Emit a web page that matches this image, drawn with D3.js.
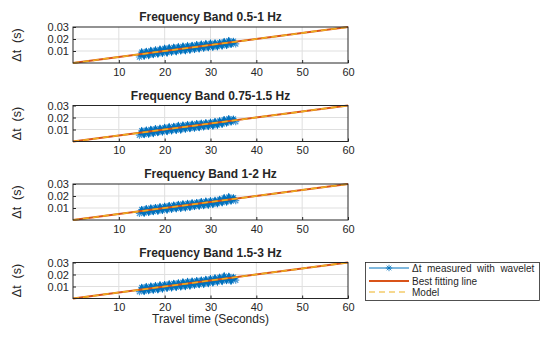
<!DOCTYPE html>
<html>
<head>
<meta charset="utf-8">
<script src="https://cdn.jsdelivr.net/npm/d3@7"></script>
<style>
    body { margin: 0; background: #fff; }
    svg { font-family: "Liberation Sans", Arial, sans-serif; }
</style>
</head>
<body>
<svg id="chart" width="560" height="337"></svg>
<script>
"use strict";
(function () {

    const bandTitles = ["Frequency Band 0.5-1 Hz", "Frequency Band 0.75-1.5 Hz", "Frequency Band 1-2 Hz", "Frequency Band 1.5-3 Hz"];

    const travelTime = [14.5, 15, 15.5, 16, 16.5, 17, 17.5, 18, 18.5, 19, 19.5, 20, 20.5, 21, 21.5, 22, 22.5,
        23, 23.5, 24, 24.5, 25, 25.5, 26, 26.5, 27, 27.5, 28, 28.5, 29, 29.5, 30, 30.5, 31, 31.5, 32, 32.5,
        33, 33.5, 34, 34.5, 35, 35.5];

    const dtBand1 = [0.0050, 0.0090, 0.0060, 0.0095, 0.0065, 0.0102, 0.0072, 0.0107, 0.0077, 0.0113, 0.0083,
        0.0120, 0.0087, 0.0125, 0.0093, 0.0129, 0.0097, 0.0133, 0.0103, 0.0138, 0.0105, 0.0141, 0.0110, 0.0145,
        0.0115, 0.0151, 0.0120, 0.0155, 0.0125, 0.0159, 0.0129, 0.0163, 0.0133, 0.0165, 0.0137, 0.0169, 0.0143,
        0.0177, 0.0149, 0.0185, 0.0155, 0.0181, 0.0159];
    const dtBand2 = [0.0053, 0.0089, 0.0059, 0.0093, 0.0063, 0.0099, 0.0069, 0.0105, 0.0075, 0.0109, 0.0081,
        0.0115, 0.0085, 0.0121, 0.0091, 0.0125, 0.0095, 0.0131, 0.0099, 0.0135, 0.0105, 0.0139, 0.0109, 0.0143,
        0.0113, 0.0147, 0.0117, 0.0151, 0.0123, 0.0155, 0.0127, 0.0159, 0.0131, 0.0165, 0.0137, 0.0171, 0.0145,
        0.0181, 0.0155, 0.0189, 0.0163, 0.0187, 0.0165];
    const dtBand3 = [0.0055, 0.0087, 0.0059, 0.0093, 0.0065, 0.0099, 0.0071, 0.0103, 0.0075, 0.0109, 0.0081,
        0.0113, 0.0085, 0.0119, 0.0091, 0.0123, 0.0095, 0.0129, 0.0099, 0.0133, 0.0103, 0.0137, 0.0107, 0.0141,
        0.0113, 0.0145, 0.0117, 0.0151, 0.0121, 0.0155, 0.0125, 0.0159, 0.0131, 0.0163, 0.0137, 0.0171, 0.0145,
        0.0183, 0.0153, 0.0191, 0.0159, 0.0185, 0.0161];
    const dtBand4 = [0.0057, 0.0091, 0.0061, 0.0097, 0.0067, 0.0101, 0.0071, 0.0105, 0.0075, 0.0111, 0.0081,
        0.0115, 0.0087, 0.0121, 0.0091, 0.0125, 0.0095, 0.0129, 0.0099, 0.0135, 0.0103, 0.0139, 0.0107, 0.0143,
        0.0113, 0.0147, 0.0117, 0.0151, 0.0121, 0.0157, 0.0127, 0.0163, 0.0133, 0.0169, 0.0139, 0.0175, 0.0145,
        0.0185, 0.0151, 0.0183, 0.0147, 0.0177, 0.0153];
    const measuredDt = [dtBand1, dtBand2, dtBand3, dtBand4];

    // best fit and model lines are the same here: 0.5 ms per second of travel
    const fitTime = [0, 60];
    const fitDt = [0, 0.03];
    const modelDt = [0, 0.03];

    const xTicks = [10, 20, 30, 40, 50, 60];
    const yTicks = [0.01, 0.02, 0.03];

    const BLUE = "#0072BD", LIGHT_BLUE = "#4d9bd6", RED = "#D95319", YELLOW = "#EDB120";
    const LEFT = 73, RIGHT = 348, PANEL_H = 36, TOP0 = 27, STEP = 78.5;

    const svg = d3.select("#chart");

    const x = d3.scaleLinear().domain([0, 60]).range([LEFT, RIGHT]);

    function star(g, px, py, r, color, w) {
        const d = r * 0.72;
        g.append("path")
            .attr("d", `M${px - r},${py}H${px + r}M${px},${py - r}V${py + r}` +
                `M${px - d},${py - d}L${px + d},${py + d}M${px - d},${py + d}L${px + d},${py - d}`)
            .attr("stroke", color)
            .attr("stroke-width", w)
            .attr("fill", "none");
    }

    bandTitles.forEach((title, i) => {
        const top = TOP0 + i * STEP;
        const y = d3.scaleLinear().domain([0, 0.03]).range([top + PANEL_H, top]);
        const g = svg.append("g");

        // grid
        g.selectAll(".gx").data(xTicks.slice(0, -1)).enter().append("line")
            .attr("x1", d => x(d)).attr("x2", d => x(d))
            .attr("y1", top).attr("y2", top + PANEL_H)
            .attr("stroke", "#dfdfdf").attr("stroke-width", 1);
        g.selectAll(".gy").data(yTicks.slice(0, -1)).enter().append("line")
            .attr("x1", LEFT).attr("x2", RIGHT)
            .attr("y1", d => y(d)).attr("y2", d => y(d))
            .attr("stroke", "#dfdfdf").attr("stroke-width", 1);

        // measured values
        const pts = travelTime.map((t, k) => [t, measuredDt[i][k]]);
        pts.forEach(p => star(g, x(p[0]), y(p[1]), 3.6, LIGHT_BLUE, 1.2));
        g.append("path")
            .attr("d", d3.line().x(d => x(d[0])).y(d => y(d[1]))(pts))
            .attr("fill", "none")
            .attr("stroke", BLUE)
            .attr("stroke-width", 4.2);

        // best fit (solid) and model (dashed)
        const fit = fitTime.map((t, k) => [t, fitDt[k]]);
        const model = fitTime.map((t, k) => [t, modelDt[k]]);
        const line = d3.line().x(d => x(d[0])).y(d => y(d[1]));
        g.append("path").attr("d", line(fit))
            .attr("fill", "none").attr("stroke", RED).attr("stroke-width", 2);
        g.append("path").attr("d", line(model))
            .attr("fill", "none").attr("stroke", YELLOW).attr("stroke-width", 1.5)
            .attr("stroke-dasharray", "6,4");

        // axes
        const xAxis = d3.axisBottom(x).tickValues(xTicks).tickSize(-3).tickPadding(5);
        const yAxis = d3.axisLeft(y).tickValues(yTicks).tickSize(-3).tickPadding(4)
            .tickFormat(d3.format(".2f"));
        const ax = g.append("g").attr("transform", `translate(0,${top + PANEL_H})`).call(xAxis);
        const ay = g.append("g").attr("transform", `translate(${LEFT},0)`).call(yAxis);
        [ax, ay].forEach(a => {
            a.select(".domain").remove();
            a.selectAll("text").attr("fill", "#262626").attr("font-size", 11)
                .attr("font-family", "Liberation Sans, Arial, sans-serif");
            a.selectAll("line").attr("stroke", "#262626");
        });
        ax.selectAll("text").attr("dy", "0.71em");

        g.append("rect")
            .attr("x", LEFT).attr("y", top)
            .attr("width", RIGHT - LEFT).attr("height", PANEL_H)
            .attr("fill", "none").attr("stroke", "#262626").attr("stroke-width", 1);

        g.append("text")
            .attr("x", (LEFT + RIGHT) / 2).attr("y", top - 6)
            .attr("text-anchor", "middle")
            .attr("font-size", 12).attr("font-weight", "bold").attr("fill", "#262626")
            .text(title);

        g.append("text")
            .attr("transform", `translate(21,${top + PANEL_H / 2}) rotate(-90)`)
            .attr("text-anchor", "middle")
            .attr("font-size", 12.5).attr("fill", "#262626")
            .attr("xml:space", "preserve")
            .text("Δt  (s)");
    });

    svg.append("text")
        .attr("x", (LEFT + RIGHT) / 2).attr("y", 323)
        .attr("text-anchor", "middle")
        .attr("font-size", 12).attr("fill", "#262626")
        .text("Travel time (Seconds)");

    // legend
    const lg = svg.append("g");
    lg.append("rect").attr("x", 365.5).attr("y", 262.5).attr("width", 174).attr("height", 38)
        .attr("fill", "#fff").attr("stroke", "#262626").attr("stroke-width", 0.8);
    const rows = [
        { y: 268, label: "Δt  measured  with  wavelet", color: BLUE, width: 1, dash: null, marker: true },
        { y: 281, label: "Best fitting line", color: RED, width: 2, dash: null, marker: false },
        { y: 292, label: "Model", color: YELLOW, width: 1.2, dash: "6,4", marker: false }
    ];
    rows.forEach(r => {
        lg.append("line").attr("x1", 369).attr("x2", 409).attr("y1", r.y).attr("y2", r.y)
            .attr("stroke", r.color).attr("stroke-width", r.width)
            .attr("stroke-dasharray", r.dash);
        if (r.marker) star(lg, 389, r.y, 3.2, r.color, 0.8);
        lg.append("text").attr("x", 412).attr("y", r.y + 3.5)
            .attr("font-size", 10).attr("fill", "#262626")
            .attr("xml:space", "preserve")
            .text(r.label);
    });
})();
</script>
</body>
</html>
